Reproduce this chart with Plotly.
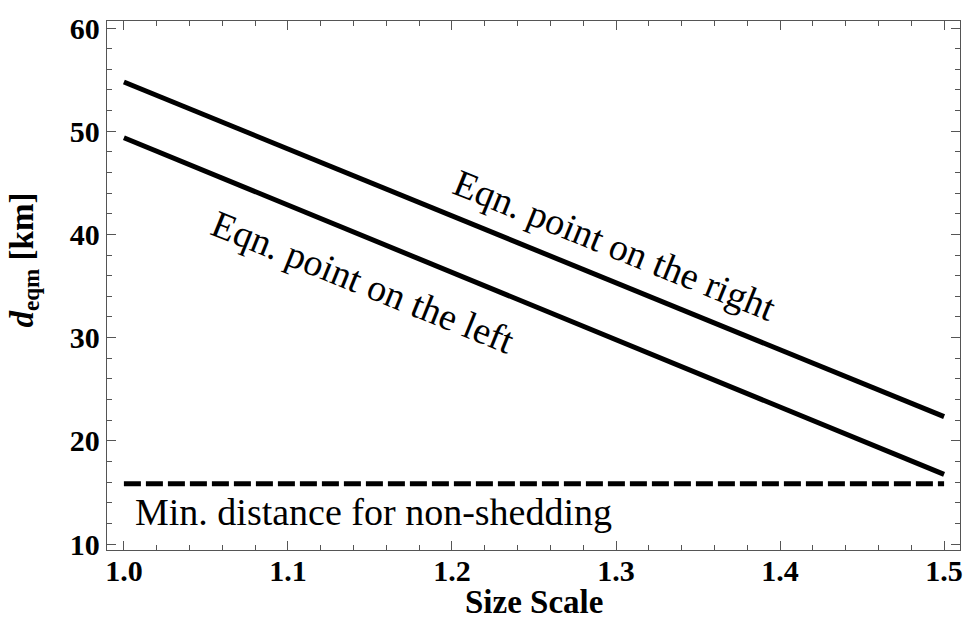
import plotly.graph_objects as go

# Size scale (x) and equilibrium distance d_eqm in km (y)
size_scale = [1.0, 1.5]
d_right = [54.77, 22.34]   # equilibrium point on the right
d_left = [49.37, 16.75]    # equilibrium point on the left
d_min = [15.84, 15.84]     # minimum distance for non-shedding

x_ticks = [1.0, 1.1, 1.2, 1.3, 1.4, 1.5]
x_tick_text = ["1.0", "1.1", "1.2", "1.3", "1.4", "1.5"]
y_ticks = [10, 20, 30, 40, 50, 60]

SERIF = "Liberation Serif, Times New Roman, serif"
FRAME = "#555555"

fig = go.Figure()
fig.add_trace(go.Scatter(x=size_scale, y=d_right, mode="lines",
                         line=dict(color="black", width=5)))
fig.add_trace(go.Scatter(x=size_scale, y=d_left, mode="lines",
                         line=dict(color="black", width=5)))
fig.add_trace(go.Scatter(x=size_scale, y=d_min, mode="lines",
                         line=dict(color="black", width=5, dash="17px,5px")))

axis_common = dict(
    showline=True, mirror="allticks", linecolor=FRAME, linewidth=1.3,
    ticks="inside", ticklen=9, tickwidth=1.2, tickcolor=FRAME,
    showgrid=False, zeroline=False,
    tickfont=dict(family=SERIF, size=30, color="black", weight="bold"),
)

fig.update_xaxes(range=[0.9897, 1.5097], tickvals=x_ticks, ticktext=x_tick_text,
                 ticklabelstandoff=-6,
                 minor=dict(dtick=0.02, ticks="inside", ticklen=5, tickcolor=FRAME),
                 **axis_common)
fig.update_yaxes(range=[9.42, 60.68], tickvals=y_ticks,
                 minor=dict(dtick=2, ticks="inside", ticklen=5, tickcolor=FRAME),
                 **axis_common)

annotations = [
    dict(x=1.299, y=38.97, xref="x", yref="y", text="Eqn. point on the right",
         textangle=22, showarrow=False,
         font=dict(family=SERIF, size=38, color="black")),
    dict(x=1.1458, y=35.39, xref="x", yref="y", text="Eqn. point on the left",
         textangle=22, showarrow=False,
         font=dict(family=SERIF, size=38, color="black")),
    dict(x=1.0055, y=13.1, xref="x", yref="y", text="Min. distance for non-shedding",
         xanchor="left", yanchor="middle", showarrow=False,
         font=dict(family=SERIF, size=38, color="black")),
    dict(x=0.5, y=0, xref="paper", yref="paper", text="<b>Size Scale</b>",
         xanchor="center", yanchor="middle", yshift=-52, showarrow=False,
         font=dict(family=SERIF, size=33, color="black")),
    dict(x=0, y=0.5, xref="paper", yref="paper",
         text="<b><i>d</i><sub>eqm</sub> [km]</b>", textangle=-90,
         xanchor="center", yanchor="middle", xshift=-83, yshift=25, showarrow=False,
         font=dict(family=SERIF, size=33, color="black")),
]

fig.update_layout(
    width=969, height=636,
    margin=dict(l=107, r=6, t=21, b=86),
    paper_bgcolor="white", plot_bgcolor="white",
    showlegend=False,
    annotations=annotations,
)

fig.write_html("out.html")
